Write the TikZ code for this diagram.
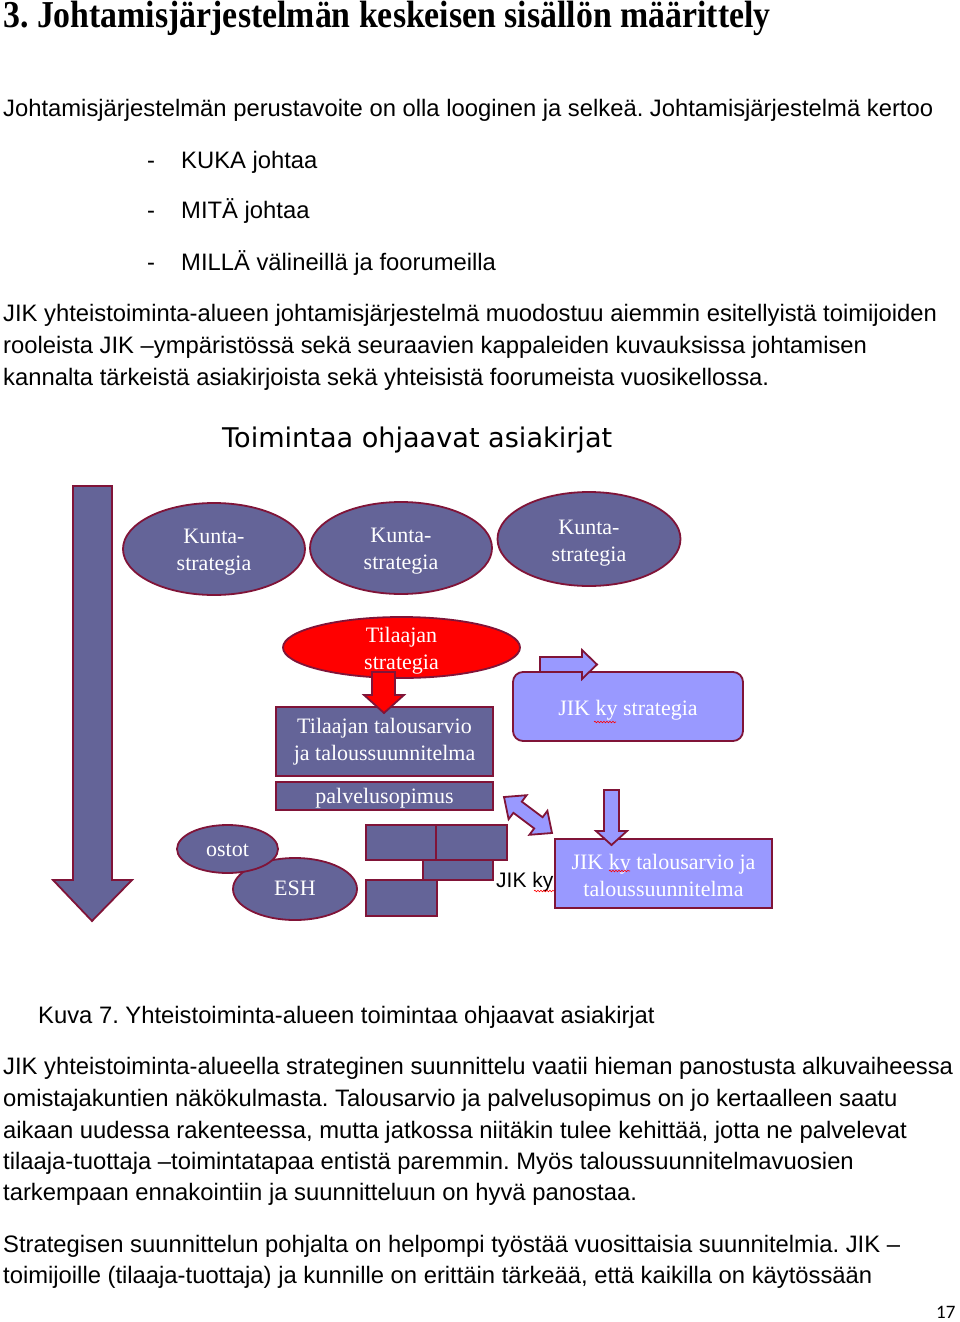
\documentclass[tikz,border=0pt]{standalone}
\usepackage{fontspec}
\setmainfont{Liberation Serif}
\newfontfamily\arialf{Liberation Sans}
\newfontfamily\dejavu{DejaVu Sans}
\newfontfamily\carlito{Carlito}
\newfontfamily\headfont[FakeStretch=0.89]{Liberation Serif Bold}
\usetikzlibrary{shapes.geometric,decorations.pathmorphing}
\definecolor{slate}{RGB}{100,100,152}
\definecolor{bord}{RGB}{128,20,56}
\definecolor{lightv}{RGB}{153,153,255}
\definecolor{redf}{RGB}{255,0,0}
\frenchspacing
\tikzset{
  bodytxt/.style={anchor=base west, inner sep=0pt, font=\arialf\fontsize{23.8}{30}\selectfont},
  headtxt/.style={anchor=base west, inner sep=0pt, font=\headfont\fontsize{38}{38}\selectfont},
  shapeline/.style={draw=bord, line width=1.8pt},
  dtext/.style={text=white, inner sep=0pt, align=center, font=\fontsize{22}{27}\selectfont},
  ell/.style={ellipse, shapeline, fill=slate},
  boxs/.style={rectangle, shapeline, fill=slate, dtext},
  boxl/.style={rectangle, shapeline, fill=lightv},
  arrs/.style={shapeline, fill=slate},
  arrl/.style={shapeline, fill=lightv},
  arrr/.style={shapeline, fill=redf},
  brick/.style={shapeline, fill=slate},
  squig/.style={draw=red, line width=0.6pt, decorate, decoration={snake, amplitude=0.8pt, segment length=3pt}}
}
\begin{document}
\begin{tikzpicture}[x=1pt,y=-1pt]
\useasboundingbox (0,0) rectangle (960,1322);
% heading
\node[headtxt] (h) at (3,28) {3. Johtamisjärjestelmän keskeisen sisällön määrittely};
% body
\node[bodytxt] (l1) at (3,116) {Johtamisjärjestelmän perustavoite on olla looginen ja selkeä. Johtamisjärjestelmä kertoo};
\node[bodytxt] (d1) at (147,168) {-};
\node[bodytxt] (b1) at (181,168) {KUKA johtaa};
\node[bodytxt] (d2) at (147,218) {-};
\node[bodytxt] (b2) at (181,218) {MITÄ johtaa};
\node[bodytxt] (d3) at (147,270) {-};
\node[bodytxt] (b3) at (181,270) {MILLÄ välineillä ja foorumeilla};
\node[bodytxt] (p1) at (3,321) {JIK yhteistoiminta-alueen johtamisjärjestelmä muodostuu aiemmin esitellyistä toimijoiden};
\node[bodytxt] (p2) at (3,353) {rooleista JIK –ympäristössä sekä seuraavien kappaleiden kuvauksissa johtamisen};
\node[bodytxt] (p3) at (3,385) {kannalta tärkeistä asiakirjoista sekä yhteisistä foorumeista vuosikellossa.};
% diagram title
\node[anchor=base west, inner sep=0pt, font=\dejavu\fontsize{27.1}{30}\selectfont] (title) at (222,447) {Toimintaa ohjaavat asiakirjat};
% big arrow
\draw[arrs] (73,486) -- (112,486) -- (112,880) -- (132,880) -- (92,921) -- (53,880) -- (73,880) -- cycle;
% kunta ellipses
\node[ell, minimum width=182pt, minimum height=92pt] (k1) at (214,549) {};
\node[dtext] (k1t) at ([yshift=-3pt]k1.center) {Kunta-\\strategia};
\node[ell, minimum width=182pt, minimum height=92pt] (k2) at (401,548) {};
\node[dtext] (k2t) at ([yshift=-3pt]k2.center) {Kunta-\\strategia};
\node[ell, minimum width=183pt, minimum height=94pt] (k3) at (589,539) {};
\node[dtext] (k3t) at ([yshift=-4pt]k3.center) {Kunta-\\strategia};
% tilaajan strategia
\node[ellipse, shapeline, fill=redf, minimum width=237pt, minimum height=61pt] (ts) at (401.5,647.5) {};
\node[dtext] (tst) at ([yshift=-3.5pt]ts.center) {Tilaajan\\strategia};
% boxes
\node[boxs, minimum width=217pt, minimum height=69pt] (tt) at (384.5,741.5) {Tilaajan talousarvio\\ja taloussuunnitelma};
\node[boxs, minimum width=217pt, minimum height=28pt] (ps) at (384.5,796) {};
\node[dtext] (pst) at ([yshift=-2pt]ps.center) {palvelusopimus};
% red arrow
\draw[arrr] (372,672) -- (395,672) -- (395,695) -- (404,695) -- (384,713) -- (364,695) -- (372,695) -- cycle;
% JIK ky strategia
\node[boxl, rounded corners=10pt, minimum width=230pt, minimum height=69pt] (js) at (628,706.5) {};
\node[dtext] (jst) at ([yshift=-3.5pt]js.center) {JIK ky strategia};
\draw[arrl] (540,657) -- (582,657) -- (582,650) -- (597,664.5) -- (582,679) -- (582,672) -- (540,672) -- cycle;
% JIK ky talousarvio
\node[boxl, minimum width=217pt, minimum height=69pt] (jt) at (663.5,873.5) {};
\node[dtext] (jtt) at ([yshift=-1.5pt]jt.center) {JIK ky talousarvio ja\\taloussuunnitelma};
\draw[arrl] (604,790) -- (619,790) -- (619,831) -- (627,831) -- (611.5,845) -- (596,831) -- (604,831) -- cycle;
% double arrow
\draw[arrl] (504,797) -- (508.6,819.2) -- (513.4,812.8) -- (534.2,828.4) -- (529.4,834.8) -- (552,833) -- (547.4,810.8) -- (542.6,817.2) -- (521.8,801.6) -- (526.6,795.2) -- cycle;
% bricks
\draw[brick] (366,825) rectangle (436,860);
\draw[brick] (436,825) rectangle (507,860);
\draw[brick] (423,860) rectangle (493,880);
\draw[brick] (366,880) rectangle (437,916);
% ESH and ostot
\node[ell, minimum width=124pt, minimum height=62pt] (esh) at (295,889) {};
\node[dtext] (esht) at ([yshift=1pt]esh.center) {ESH};
\node[ell, minimum width=101pt, minimum height=48pt] (ost) at (227.5,849) {};
\node[dtext] (ostt) at ([yshift=-1.5pt]ost.center) {ostot};
% JIK ky black text
\node[anchor=base west, inner sep=0pt, font=\arialf\fontsize{21}{24}\selectfont] (jk) at (496,887) {JIK ky};
% spelling squiggles
\draw[squig] (594,722) -- (616,722);
\draw[squig] (609,871) -- (630,871);
\draw[squig] (534,891) -- (554,891);
% caption
\node[bodytxt] (cap) at (38,1023) {Kuva 7. Yhteistoiminta-alueen toimintaa ohjaavat asiakirjat};
\node[bodytxt] (q1) at (3,1074) {JIK yhteistoiminta-alueella strateginen suunnittelu vaatii hieman panostusta alkuvaiheessa};
\node[bodytxt] (q2) at (3,1106) {omistajakuntien näkökulmasta. Talousarvio ja palvelusopimus on jo kertaalleen saatu};
\node[bodytxt] (q3) at (3,1138) {aikaan uudessa rakenteessa, mutta jatkossa niitäkin tulee kehittää, jotta ne palvelevat};
\node[bodytxt] (q4) at (3,1169) {tilaaja-tuottaja –toimintatapaa entistä paremmin. Myös taloussuunnitelmavuosien};
\node[bodytxt] (q5) at (3,1200) {tarkempaan ennakointiin ja suunnitteluun on hyvä panostaa.};
\node[bodytxt] (s1) at (3,1252) {Strategisen suunnittelun pohjalta on helpompi työstää vuosittaisia suunnitelmia. JIK –};
\node[bodytxt] (s2) at (3,1283) {toimijoille (tilaaja-tuottaja) ja kunnille on erittäin tärkeää, että kaikilla on käytössään};
% page number
\node[anchor=base west, inner sep=0pt, font=\carlito\fontsize{19}{22}\selectfont] (pg) at (936,1318) {17};
\end{tikzpicture}
\end{document}
